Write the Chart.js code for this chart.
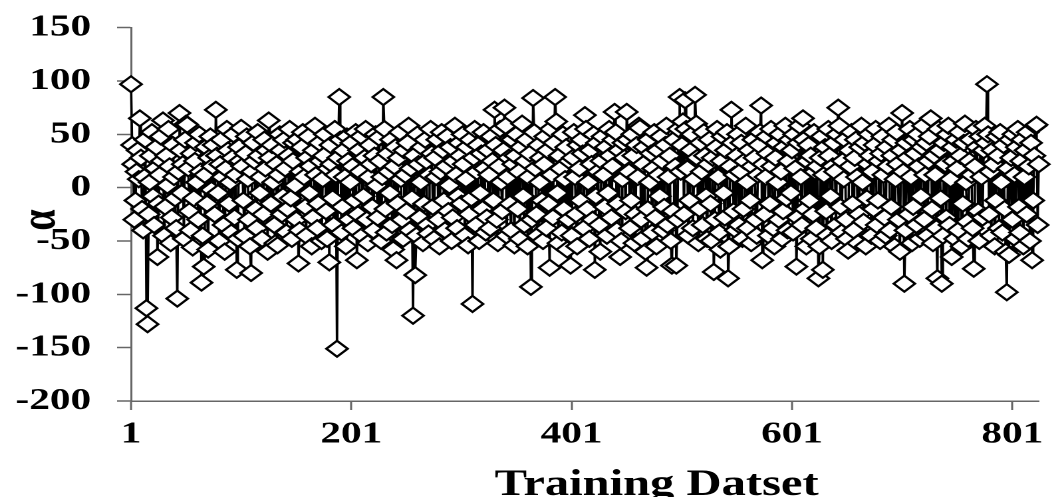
<!DOCTYPE html>
<html><head><meta charset="utf-8">
<script src="https://cdn.jsdelivr.net/npm/chart.js@4.4.1/dist/chart.umd.min.js"></script>
<style>
html,body{margin:0;padding:0;background:#fff;overflow:hidden}
#wrap{position:absolute;left:0;top:0;width:791px;height:497px;transform:scaleX(1.33);transform-origin:0 0}
</style></head><body>
<div id="wrap"><canvas id="c" width="791" height="497"></canvas></div>
<script>
// alpha values per training sample, index 1..825
const alphaSeg1 = [
97,40,22,-30,-12,15,35,8,65,28,-20,-40,10,45,-113,-128,-25,5,30,52,-8,-35,18,38,-65,
-15,12,48,25,63,-45,-18,30,2,55,20,-52,-28,40,10,-10,-38,-104,15,70,35,-5,22,-48,45,
60,59,18,-22,-40,32,-56,-10,25,42,5,-30,50,15,-89,-45,-74,12,38,-15,-58,28,48,-2,20,
40,-25,73,30,-5,-50,22,45,10,-35,-60,18,55,35,-15,5,-42,28,50,-28,12,-77,-48,38,25,
56,20,-12,-45,32,48,8,-30,-55,-80,15,42,25,-20,-38,52,30,-5,10,-48,-25,45,18,35,-60,
63,28,-15,40,5,-35,-52,22,-54,12,50,35,-25,-8,45,18,-42,-20,30,55,-10,-48,25,42,2,
-30,45,-71,-40,15,38,52,10,-18,-45,28,48,-5,20,-55,-28,35,58,12,-38,-15,42,25,-50,8,
30,50,-22,-48,18,-70,40,22,-10,-35,55,12,-151,28,85,45,-42,-18,35,10,-55,48,25,-30,5
];
const alphaSeg2 = [
42,20,-38,-12,52,-68,-25,35,15,48,-45,-8,28,55,-30,-52,10,40,22,-18,-40,30,50,2,-28,
47,25,-50,10,85,55,-20,-42,32,15,-5,45,-35,-58,20,38,-68,-15,28,52,8,-30,-48,35,12,
-22,42,58,-40,18,-10,-120,30,-82,-45,50,22,-28,5,38,-52,-15,45,25,-35,-43,12,55,32,-18,
-48,28,10,45,-30,-55,15,52,35,-12,-40,20,48,-22,2,38,-50,-28,25,58,12,-38,-8,42,30,
-15,50,22,-45,8,38,-54,-25,45,-10,-109,28,55,-35,15,40,-50,-5,32,-20,52,18,-42,-28,35,
12,-38,48,25,-12,73,40,-30,-52,20,55,5,-22,35,75,58,-45,10,28,-15,-40,45,22,-54,30,
50,-20,15,-48,38,60,-8,-35,25,45,-55,10,32,-93,-30,84,52,18,-25,-45,40,5,28,-12,-50,
22,48,-38,35,-15,-75,55,12,-28,42,85,62,-5,-52,30,18,-42,50,-20,8,38,-58,-30,25,-73
];
const alphaSeg3 = [
-45,28,52,10,-25,-55,40,18,-12,45,32,-38,68,55,-20,5,-48,35,22,-30,50,-77,-8,42,15,
-35,-60,25,48,12,-18,38,-45,-5,55,30,-28,20,45,71,52,-40,-15,35,-65,-50,8,42,28,-22,
71,45,15,-38,-12,50,30,-52,-25,40,10,58,56,-30,-48,22,38,-60,-75,-20,45,5,32,-42,18,
52,-28,-55,35,12,-8,48,25,-40,-18,40,58,-35,10,30,-50,-73,-22,45,20,-73,-30,55,85,15,
40,62,-25,82,55,18,-45,-12,35,50,-38,8,87,60,28,-52,-20,42,15,-35,52,30,-8,-48,22,
45,-15,-50,28,-79,-30,38,55,10,-42,-58,25,48,-5,-28,35,52,-85,-55,20,73,42,-22,12,-40,
30,50,-35,15,42,-48,-20,25,58,5,-38,35,-12,-52,20,45,28,-30,-45,12,40,52,77,-68,22,
-25,10,48,32,-45,-15,55,20,-38,-55,28,42,5,-30,50,15,-48,-22,38,58,-10,-40,25,45,-5
];
const alphaSeg4 = [
35,-42,50,18,-74,-28,42,58,10,-35,65,45,-20,-55,25,40,-12,30,-48,-25,52,15,-38,20,-85,
-55,28,48,-77,12,38,-22,-45,55,30,-8,-50,20,42,15,-35,50,75,58,-18,-42,25,8,45,-30,
-48,-59,35,20,52,-15,-40,28,45,10,-52,-25,38,58,5,-32,42,-55,-10,22,50,30,-45,15,-20,
40,55,-35,-12,25,-50,32,48,12,-28,-45,38,20,58,-40,-18,30,45,-55,8,52,22,-30,-60,35,
70,15,-90,-40,42,28,-25,55,10,-52,-18,45,32,-35,50,20,-48,-8,38,58,-30,12,42,-45,25,
48,65,-20,-52,30,12,-38,-85,55,35,-10,-90,-45,42,22,-28,50,58,-35,8,-65,38,25,-48,45,
18,-40,52,30,-55,-15,42,60,5,-32,-48,25,45,12,-38,-76,20,55,38,-22,-50,48,10,-28,35,
58,42,97,50,-25,15,-45,35,22,-55,-12,48,30,-38,52,5,-42,40,-20,-60,-98,18,-63,45,28,
-30,50,12,-48,38,55,-18,-42,25,45,-55,10,35,-25,52,20,-50,42,-68,-12,30,58,59,-35,22
];
const xTickValues = [1, 201, 401, 601, 801];
const xMin = 1, xMax = 825;
const yMin = -200, yMax = 150, yStep = 50;
const xTitle = 'Training Datset';
const yTitle = 'α';

const alphaValues = [].concat(alphaSeg1, alphaSeg2, alphaSeg3, alphaSeg4);
const points = alphaValues.map((v, i) => ({ x: i + 1, y: v }));
const serif = "'Liberation Serif','Times New Roman',serif";

const titlesPlugin = {
  id: 'titles',
  afterDraw(chart) {
    const { ctx, chartArea: a } = chart;
    ctx.save();
    ctx.fillStyle = '#000';
    ctx.font = `bold 36.5px ${serif}`;
    ctx.textAlign = 'center';
    ctx.textBaseline = 'alphabetic';
    ctx.fillText(xTitle, a.left + (a.right - a.left) * 0.579, 495);
    ctx.translate(31, 220);
    ctx.rotate(-Math.PI / 2);
    ctx.font = `bold 38px ${serif}`;
    ctx.textBaseline = 'middle';
    ctx.fillText(yTitle, 0, 0);
    ctx.restore();
  }
};

const tickFont = { family: serif, weight: 'bold', size: 31 };

new Chart(document.getElementById('c'), {
  type: 'line',
  data: {
    datasets: [{
      data: points,
      borderColor: '#000',
      borderWidth: 1.8,
      tension: 0,
      pointStyle: 'rectRot',
      pointRadius: 8,
      pointHoverRadius: 8,
      pointBorderWidth: 2,
      pointBackgroundColor: '#fff',
      pointBorderColor: '#000',
      clip: false
    }]
  },
  options: {
    responsive: false,
    animation: false,
    devicePixelRatio: 2,
    events: [],
    layout: { padding: { top: 27.7, right: 7, left: 0, bottom: 0 } },
    plugins: { legend: { display: false }, tooltip: { enabled: false } },
    scales: {
      x: {
        type: 'linear', min: xMin, max: xMax,
        afterBuildTicks(s) { s.ticks = xTickValues.map(v => ({ value: v })); },
        afterFit(s) { s.height = 96; },
        grid: { drawOnChartArea: false, drawTicks: true, tickLength: 9, tickColor: '#666', tickWidth: 1.5 },
        border: { display: true, color: '#666', width: 1.5 },
        ticks: { autoSkip: false, maxRotation: 0, color: '#000', font: tickFont, padding: 6, callback: v => String(v) }
      },
      y: {
        min: yMin, max: yMax,
        afterFit(s) { s.width = 98.5; s.paddingTop = 5; s.paddingBottom = 5; },
        grid: { drawOnChartArea: false, drawTicks: true, tickLength: 10.5, tickColor: '#666', tickWidth: 1.5 },
        border: { display: true, color: '#666', width: 1.5 },
        ticks: { stepSize: yStep, color: '#000', font: tickFont, padding: 19.5 }
      }
    }
  },
  plugins: [titlesPlugin]
});
</script>
</body></html>
